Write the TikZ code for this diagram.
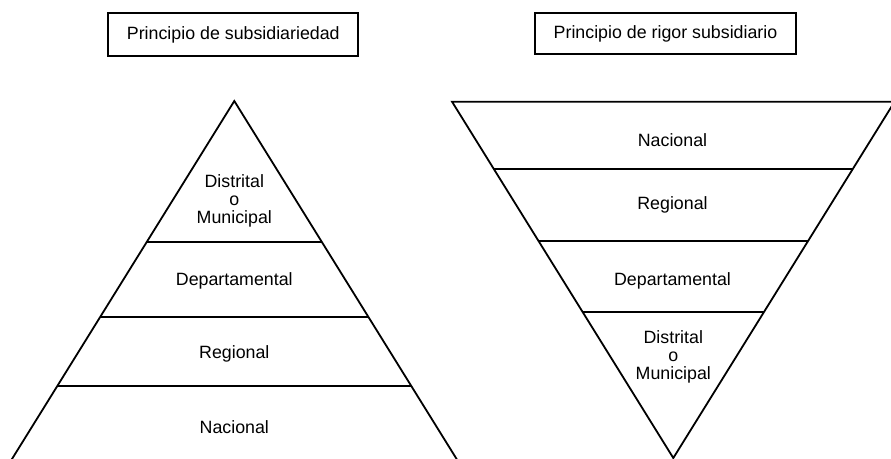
\documentclass[tikz,border=0pt]{standalone}
\usepackage{fontspec}
\setmainfont{Liberation Sans}
\begin{document}
\begin{tikzpicture}[x=1pt,y=-1pt,
  every node/.style={font=\fontsize{17.8}{18}\selectfont, align=center, inner sep=0pt},
  titlebox/.style={draw, line width=1.8pt},
  edge/.style={line width=1.8pt, line join=miter}]
  \clip (0,0) rectangle (891,458);
  % titles
  \node[titlebox, minimum width=250pt, minimum height=42.4pt] (tsub) at (233.3,34.5) {Principio de subsidiariedad};
  \node[titlebox, minimum width=260.4pt, minimum height=41pt] (trig) at (665.5,33.7) {Principio de rigor subsidiario};
  % left pyramid
  \coordinate (la) at (234.3,101);
  \coordinate (lb) at ({234.3-0.621*369},470);
  \coordinate (lc) at ({234.3+0.621*369},470);
  \draw[edge] (lb) -- (la) -- (lc);
  \foreach \y in {241.7,316.7,385.7}
    \draw[edge] ({234.3-0.621*(\y-101)},\y) -- ({234.3+0.621*(\y-101)},\y);
  \node (ldis) at (234.3,201.3) {Distrital\\o\\Municipal};
  \node (ldep) at (234.3,281.3) {Departamental};
  \node (lreg) at (234.3,354) {Regional};
  \node (lnac) at (234.3,426.7) {Nacional};
  % right pyramid
  \coordinate (ra) at (673.3,458);
  \coordinate (rb) at ({673.3-0.621*356.3},101.7);
  \coordinate (rc) at ({673.3+0.621*356.3},101.7);
  \draw[edge] (ra) -- (rb) -- (rc) -- cycle;
  \foreach \y in {169,240.7,311.7}
    \draw[edge] ({673.3-0.621*(458-\y)},\y) -- ({673.3+0.621*(458-\y)},\y);
  \node (rnac) at (672.5,140) {Nacional};
  \node (rreg) at (672.5,205) {Regional};
  \node (rdep) at (672.5,280.5) {Departamental};
  \node (rdis) at (673.3,356.7) {Distrital\\o\\Municipal};
\end{tikzpicture}
\end{document}
